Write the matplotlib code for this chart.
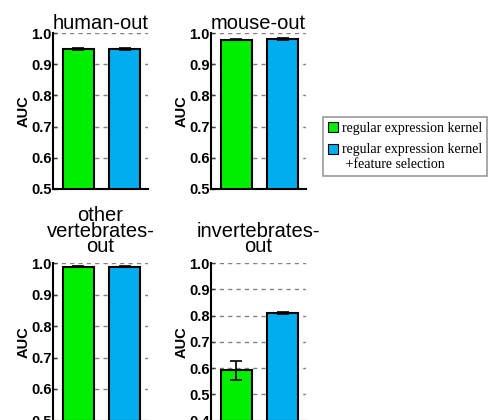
import numpy as np
import matplotlib
matplotlib.use('Agg')
import matplotlib.pyplot as plt
from matplotlib.patches import Patch

# AUC per held-out group: regular expression kernel vs. + feature selection
titles = ['human-out', 'mouse-out', 'other\nvertebrates-\nout', 'invertebrates-\nout']
auc_kernel = [0.950, 0.978, 0.988, 0.591]
err_kernel = [0.003, 0.002, 0.002, 0.035]
auc_featsel = [0.950, 0.981, 0.988, 0.811]
err_featsel = [0.003, 0.002, 0.002, 0.004]
ylims = [(0.5, 1.0), (0.5, 1.0), (0.5, 1.0), (0.4, 1.0)]
yticks = [np.arange(0.5, 1.01, 0.1), np.arange(0.5, 1.01, 0.1),
          np.arange(0.5, 1.01, 0.1), np.arange(0.4, 1.01, 0.1)]
legend_labels = ['regular expression kernel', 'regular expression kernel\n +feature selection']

green = '#00ee00'
blue = '#00aeef'

plt.rcParams['font.family'] = ['Liberation Sans', 'DejaVu Sans']

fig = plt.figure(figsize=(4.91, 4.2), dpi=100)
W, H = 491.0, 420.0
# axes boxes in pixels: left, top, right, bottom
boxes = [(53, 33, 148, 189), (211, 33, 306, 189),
         (53, 263, 148, 420.5), (211, 263, 306, 420.5)]

for k, (l, t, r, b) in enumerate(boxes):
    ax = fig.add_axes([l / W, (H - b) / H, (r - l) / W, (b - t) / H])
    ax.set_axisbelow(True)
    ax.bar([1, 2], [auc_kernel[k], auc_featsel[k]], width=0.67,
           color=[green, blue], edgecolor='black', linewidth=1.5, zorder=2)
    ax.errorbar([1, 2], [auc_kernel[k], auc_featsel[k]],
                yerr=[err_kernel[k], err_featsel[k]], fmt='none',
                ecolor='black', elinewidth=1.2, capsize=4, capthick=1.2, zorder=3)
    ax.set_xlim(0.45, 2.5)
    ax.set_ylim(*ylims[k])
    ax.set_yticks(yticks[k])
    ax.set_yticklabels(['%.1f' % v for v in yticks[k]], fontsize=10.5, fontweight='bold')
    ax.set_xticks([])
    ax.yaxis.grid(True, linestyle=(0, (3, 3)), color='#808080', linewidth=1.0)
    ax.tick_params(axis='y', direction='in', length=3, width=1, color='#404040', pad=1)
    ax.spines['top'].set_visible(False)
    ax.spines['right'].set_visible(False)
    ax.spines['left'].set_linewidth(1.5)
    ax.spines['bottom'].set_linewidth(1.5)
    ax.set_ylabel('AUC', fontsize=10.5, fontweight='bold', labelpad=0)
    multiline = '\n' in titles[k]
    ax.set_title(titles[k], fontsize=14.5, pad=8 if multiline else 2, linespacing=0.75)

handles = [Patch(facecolor=green, edgecolor='black', linewidth=0.8),
           Patch(facecolor=blue, edgecolor='black', linewidth=0.8)]
leg = fig.legend(handles, legend_labels, loc='upper left',
                 bbox_to_anchor=(323 / W, (H - 117) / H),
                 prop={'family': 'Liberation Serif', 'size': 10},
                 handlelength=0.7, handleheight=0.7, handletextpad=0.3,
                 borderpad=0.35, labelspacing=0.6, borderaxespad=0,
                 frameon=True, fancybox=False)
leg.get_frame().set_edgecolor('#808080')
leg.get_frame().set_linewidth(1.2)
# put the second square next to the first line of its two-line label
p = leg.legend_handles[1]
p.set_y(p.get_y() + 6.0)

fig.savefig('out.png', dpi=100)
